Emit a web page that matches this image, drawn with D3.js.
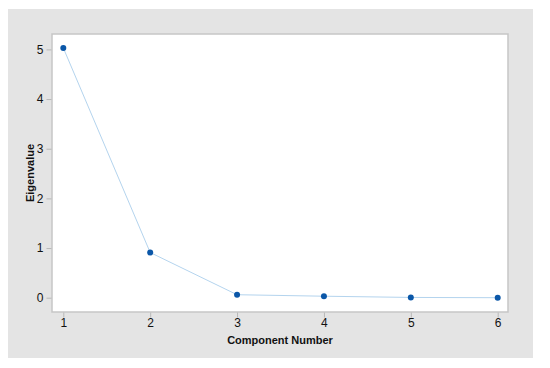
<!DOCTYPE html>
<html><head><meta charset="utf-8">
<script src="https://cdn.jsdelivr.net/npm/d3@7"></script>
<style>body{margin:0;background:#fff}svg{display:block}</style>
</head><body>
<script>
const components = [1, 2, 3, 4, 5, 6];
const eigenvalues = [5.03, 0.91, 0.06, 0.03, 0.005, 0.0];
const yTicks = [0, 1, 2, 3, 4, 5];
const xLabel = "Component Number";
const yLabel = "Eigenvalue";

const W = 550, H = 368;
const svg = d3.select("body").append("svg").attr("width", W).attr("height", H);
svg.append("rect").attr("x", 8).attr("y", 9).attr("width", 525).attr("height", 349).attr("fill", "#e4e4e4");

const plot = {l: 52, t: 34, r: 508, b: 312};
svg.append("rect").attr("x", plot.l).attr("y", plot.t).attr("width", plot.r - plot.l).attr("height", plot.b - plot.t)
  .attr("fill", "#fff").attr("stroke", "#c6c6c6").attr("stroke-width", 1.5);

const x = d3.scaleLinear().domain([1, 6]).range([63.3, 497.7]);
const y = d3.scaleLinear().domain([0, 5]).range([297.7, 49.4]);

const yAxis = d3.axisLeft(y).tickValues(yTicks).tickSize(5).tickPadding(3).tickFormat(d3.format("d"));
const gy = svg.append("g").attr("transform", `translate(${plot.l - 0.5},0)`).call(yAxis);
const xAxis = d3.axisBottom(x).tickValues(components).tickSize(5).tickPadding(1).tickFormat(d3.format("d"));
const gx = svg.append("g").attr("transform", `translate(0,${plot.b + 0.5})`).call(xAxis);
[gy, gx].forEach(g => {
  g.select(".domain").remove();
  g.selectAll(".tick line").attr("stroke", "#b8b8b8");
  g.selectAll(".tick text").attr("fill", "#111").style("font-family", "Liberation Sans, Arial, sans-serif").style("font-size", "12px");
});

svg.append("path").datum(components.map((c, i) => [c, eigenvalues[i]]))
  .attr("fill", "none").attr("stroke", "#b4d4ee").attr("stroke-width", 1)
  .attr("d", d3.line().x(d => x(d[0])).y(d => y(d[1])));
svg.selectAll("circle.pt").data(components).enter().append("circle")
  .attr("cx", d => x(d)).attr("cy", (d, i) => y(eigenvalues[i])).attr("r", 3)
  .attr("fill", "#0b57a8");

svg.append("text").attr("x", (plot.l + plot.r) / 2).attr("y", 344).attr("text-anchor", "middle")
  .style("font-family", "Liberation Sans, Arial, sans-serif").style("font-size", "11px").style("font-weight", "bold")
  .attr("fill", "#111").text(xLabel);
svg.append("text").attr("transform", `translate(34,${(plot.t + plot.b) / 2}) rotate(-90)`).attr("text-anchor", "middle")
  .style("font-family", "Liberation Sans, Arial, sans-serif").style("font-size", "11px").style("font-weight", "bold")
  .attr("fill", "#111").text(yLabel);
</script>
</body></html>
